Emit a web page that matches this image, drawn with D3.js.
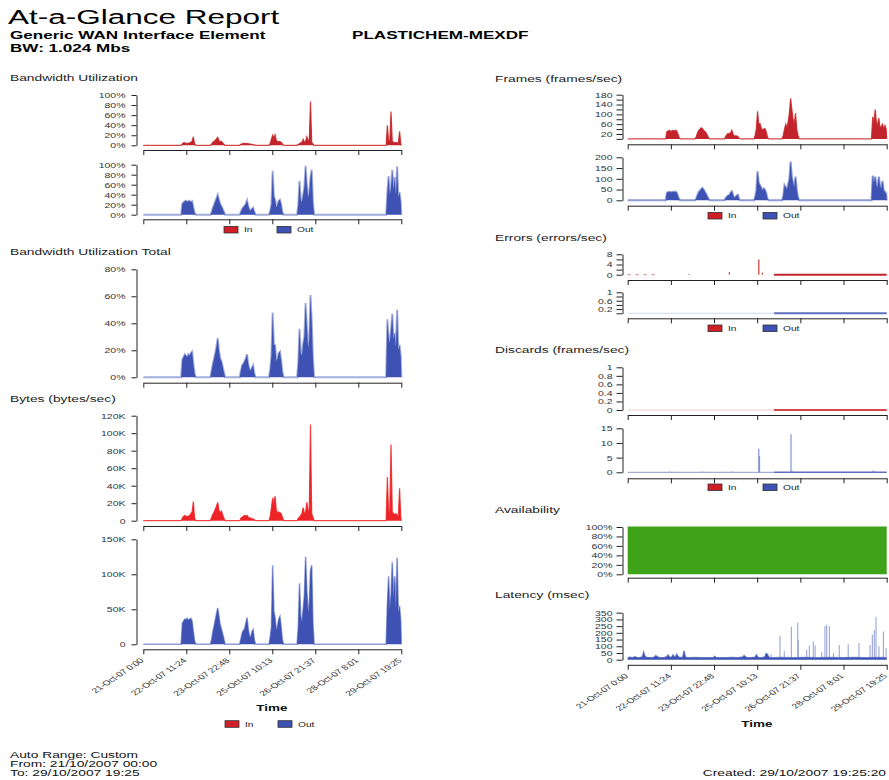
<!DOCTYPE html>
<html><head><meta charset="utf-8">
<script src="https://cdn.jsdelivr.net/npm/d3@7"></script>
<style>body{margin:0;background:#fff}svg{display:block}</style>
</head><body>
<svg id="c" width="889" height="780"></svg>
<script>
// ---------------- DATA ----------------
const H_END = 211.42; // hours from 21-Oct-07 00:00 to 29-Oct-07 19:25
const tickHours = [0, 35.24, 70.47, 105.71, 140.95, 176.18, 211.42];
const tickLabels = ["21-Oct-07 0:00","22-Oct-07 11:24","23-Oct-07 22:48","25-Oct-07 10:13","26-Oct-07 21:37","28-Oct-07 8:01","29-Oct-07 19:25"];
const seriesNames = ["In", "Out"];

// business-hour bursts: hourly samples start at burstStart+1
const burstStart = [31, 55, 79, 103, 126, 199];

const bwIn = [
  [3,5,5,4,4,4,5,6,8,17,3],
  [3,6,8,10,13,16,9,7,8,5,2],
  [2,3,4,4,3,4,3,3,2,2,1,1],
  [4,12,20,15,21,10,7,8,7,6,3],
  [2,3,5,6,12,6,8,17,10,9,87,6,3],
  [40,8,10,67,8,6,5,6,5,4,28,3]
];
const bwOut = [
  [22,25,27,28,26,27,28,25,27,15,4],
  [5,14,20,27,33,40,30,22,17,12,6],
  [6,12,15,18,22,29,18,10,8,12,14,6],
  [8,20,88,37,30,15,20,28,30,20,5],
  [20,68,30,25,40,55,98,60,35,45,75,90,25],
  [45,77,40,55,90,50,75,40,97,35,45,25]
];
const bwTotal = [
  [13,15,17,16,15,17,16,18,19,10,3],
  [5,10,14,18,23,29,20,14,12,8,4],
  [5,9,10,12,14,17,10,6,5,7,9,3],
  [6,16,48,24,24,12,14,18,19,12,4],
  [11,36,18,16,25,30,55,38,22,28,61,42,14],
  [43,30,25,35,47,28,33,22,50,20,24,15]
];
const bytesIn = [ // K bytes/sec
  [3,5,6,5,5,5,6,8,10,22,3],
  [4,7,10,13,17,21,12,9,11,7,3],
  [3,4,5,6,5,6,4,3,3,2,2,1],
  [5,15,26,20,28,12,9,10,9,8,4],
  [3,4,6,8,15,8,10,21,12,11,110,8,4],
  [50,10,12,87,10,8,7,8,6,5,37,4]
];
const bytesOut = [
  [30,33,36,35,37,34,36,37,33,18,5],
  [7,18,26,35,44,52,40,28,22,15,8],
  [8,16,20,22,30,38,22,12,10,18,21,6],
  [10,25,113,47,38,20,26,36,40,24,6],
  [25,87,40,32,50,70,125,78,45,58,105,113,30],
  [58,97,50,70,117,65,97,50,124,45,55,32]
];
const framesIn = [
  [30,32,35,30,33,35,32,35,33,20,5],
  [10,25,35,40,45,42,35,30,25,15,5],
  [10,18,22,20,25,35,20,12,12,12,10,3],
  [15,40,112,60,62,45,35,40,42,30,10],
  [15,40,60,45,70,105,165,120,80,60,105,40,15],
  [90,65,120,70,55,85,45,50,60,40,55,40]
];
const framesOut = [
  [35,38,40,38,37,40,38,40,36,20,5],
  [10,25,38,45,52,57,50,40,30,18,6],
  [10,18,22,25,35,42,25,12,15,22,25,5],
  [15,45,135,80,70,60,45,55,50,35,10],
  [20,70,60,50,75,100,180,110,80,60,110,50,15],
  [115,80,110,70,60,110,65,55,90,45,40,30]
];

const errInEarlyEnd = 26;      // hour up to which early error samples appear
const fullPollingFrom = 119.5; // hour from which error/discard data is continuous
const errInSpikeHours = [50, 83, 107, 110];
const errInSpikeVals  = [0.3, 1, 6, 0.8];
const discOutSpikeHours = [34.5, 37, 61, 64, 80, 85, 107, 107.6, 133.3, 134, 200, 202];
const discOutSpikeVals  = [0.3, 0.2, 0.3, 0.2, 0.2, 0.3, 8, 5.5, 13, 0.6, 0.6, 0.5];

const availHours = [0, 211.42];
const availVals  = [100, 100];

const latBaseHours = [0,2,4,6,8,10,12,13,14,15,17,20,22,23,24,25,27,30,32,33,34,36,37,38,39,40,41,42,44,45,46,47,49,55,60,65,70,71,72,75,80,85,90,94,95,96,97,100,104,105,106,107,110,112,113,114,115,116,118,125,135,145,155,165,175,185,195,205,211.42];
const latBaseVals  = [15,18,15,22,14,16,20,55,25,18,16,15,20,30,22,18,15,16,22,35,20,18,35,22,20,40,25,18,15,22,65,20,15,16,14,15,15,25,16,14,15,16,15,20,30,22,16,15,18,35,22,15,16,20,45,40,20,16,15,16,15,16,15,16,15,16,15,16,15];
const latSpikeHours = [117,124.3,127.8,133.6,138.8,139.3,146.1,148.3,151.5,153,158.4,161,162.4,164.6,168,172.7,180,188.8,197.8,199.7,201.3,202.7,205.1,208.7,210.9];
const latSpikeVals  = [40,180,65,245,275,145,75,105,135,105,55,250,260,250,50,110,115,125,110,185,220,320,100,210,85];

const pctTicks = [0,20,40,60,80,100];
const totTicks = [0,20,40,60,80];
const bytesInTicks = [0,20,40,60,80,100,120];
const bytesOutTicks = [0,50,100,150];
const framesInTicks = [0,20,40,60,80,100,120,140,160,180];
const framesInLabelled = [20,60,100,140,180];
const framesOutTicks = [0,50,100,150,200];
const errInTicks = [0,2,4,6,8];
const errInLabelled = [0,4,8];
const errOutTicks = [0,0.2,0.4,0.6,0.8,1];
const errOutLabelled = [0.2,0.6,1];
const discInTicks = [0,0.2,0.4,0.6,0.8,1];
const discOutTicks = [0,5,10,15];
const latTicks = [0,50,100,150,200,250,300,350];

// ---------------- DRAWING ----------------
const FONT = "'Liberation Sans', Arial, Helvetica, sans-serif";
const SX = 1.5;
const RED = "#c3232b", RED_B = "#ee2328", BLUE = "#3d52b2", GREEN = "#3fa31a";
const svg = d3.select("#c");

function text(x, y, s, size, o = {}) {
  return svg.append("text")
    .attr("transform", `translate(${x},${y}) scale(${o.sx || SX},1)`)
    .attr("text-anchor", o.anchor || "start")
    .attr("font-family", FONT).attr("font-size", size)
    .attr("font-weight", o.bold ? "bold" : "normal")
    .attr("fill", o.fill || "#111").text(s);
}

function buildSeries(vals) {
  const pts = [{h: 0, v: 0}];
  burstStart.forEach((s, i) => {
    pts.push({h: s, v: 0});
    vals[i].forEach((v, j) => pts.push({h: s + 1 + j, v}));
    pts.push({h: Math.min(s + vals[i].length + 1, H_END), v: 0});
  });
  if (pts[pts.length - 1].h < H_END) pts.push({h: H_END, v: 0});
  return pts;
}

const LEFT = {x0: 143.3, x1: 401.3, ax: 136.5, tick: 5, pad: 6};
const RIGHT = {x0: 627.7, x1: 886.7, ax: 622.5, tick: 6, pad: 4};

function panel(c) {
  const x = d3.scaleLinear().domain([0, H_END]).range([c.col.x0, c.col.x1]);
  const y = d3.scaleLinear().domain([0, c.max]).range([c.y0, c.y1]);
  const g = svg.append("g");
  const ya = d3.axisLeft(y).tickValues(c.ticks).tickSize(c.col.tick).tickSizeOuter(0)
    .tickFormat(c.fmt);
  const yg = g.append("g").attr("transform", `translate(${c.col.ax},0)`).call(ya)
    .attr("color", "#222").attr("font-family", FONT).attr("font-size", 7);
  yg.selectAll("text").attr("x", 0).attr("dy", "0.34em").attr("fill", "#333")
    .attr("transform", `translate(${-(c.col.tick + c.col.pad)},0) scale(${SX},1)`);
  const xa = d3.axisBottom(x).tickValues(tickHours).tickSize(5).tickSizeOuter(0)
    .tickFormat((d, i) => c.labels ? tickLabels[i] : "");
  const xg = g.append("g").attr("transform", `translate(0,${c.axisY})`).call(xa)
    .attr("color", "#222").attr("font-family", FONT).attr("font-size", 6.9);
  if (c.labels) {
    xg.selectAll("text").attr("y", null).attr("dy", "0.35em").attr("text-anchor", "end")
      .attr("fill", "#333")
      .attr("transform", `translate(-2,10) scale(${SX},1) rotate(-45)`);
  }
  return {x, y, g};
}

function areaSeries(p, data, fill, lineColor, lw) {
  const line = d3.line().x(d => p.x(d.h)).y(d => p.y(d.v));
  const area = d3.area().x(d => p.x(d.h)).y0(p.y(0)).y1(d => p.y(d.v));
  p.g.append("path").datum(data).attr("d", line).attr("fill", "none")
    .attr("stroke", lineColor).attr("stroke-width", lw);
  p.g.append("path").datum(data).attr("d", area).attr("fill", fill);
}

function spikes(p, hours, vals, base, color, w) {
  p.g.selectAll(null).data(hours.map((h, i) => ({h, v: vals[i]}))).join("line")
    .attr("x1", d => p.x(d.h)).attr("x2", d => p.x(d.h))
    .attr("y1", p.y(base)).attr("y2", d => p.y(d.v))
    .attr("stroke", color).attr("stroke-width", w);
}

function segment(p, h0, h1, color, w, dash) {
  const line = d3.line().x(d => p.x(d.h)).y(d => p.y(d.v));
  p.g.append("path").datum([{h: h0, v: 0}, {h: h1, v: 0}]).attr("d", line)
    .attr("fill", "none").attr("stroke", color).attr("stroke-width", w)
    .attr("stroke-dasharray", dash || null);
}

function legend(xRed, xBlue, cy) {
  [[xRed, "#d01f26", seriesNames[0]], [xBlue, BLUE, seriesNames[1]]].forEach(([bx, col, name]) => {
    svg.append("rect").attr("x", bx).attr("y", cy - 3.3).attr("width", 14).attr("height", 6.6)
      .attr("fill", col).attr("stroke", "#333").attr("stroke-width", 0.8);
    text(bx + 20, cy + 2.5, name, 6.8, {fill: "#222"});
  });
}

const pctFmt = d => d + "%";
const kFmt = d => d === 0 ? "0" : d + "K";
const sel = arr => d => arr.includes(d) ? String(d) : "";

// header
text(8, 23.5, "At-a-Glance Report", 21, {fill: "#000"});
text(10, 39, "Generic WAN Interface Element", 11.4, {bold: true, fill: "#000"});
text(352, 39, "PLASTICHEM-MEXDF", 11.4, {bold: true, fill: "#000"});
text(10, 52, "BW: 1.024 Mbs", 11.4, {bold: true, fill: "#000"});

// section titles
text(10, 81, "Bandwidth Utilization", 9.2, {fill: "#222"});
text(10, 255, "Bandwidth Utilization Total", 9.2, {fill: "#222"});
text(10, 402, "Bytes (bytes/sec)", 9.2, {fill: "#222"});
text(495, 81.5, "Frames (frames/sec)", 9.2, {fill: "#222"});
text(495, 241, "Errors (errors/sec)", 9.2, {fill: "#222"});
text(495, 353, "Discards (frames/sec)", 9.2, {fill: "#222"});
text(495, 513, "Availability", 9.2, {fill: "#222"});
text(495, 598, "Latency (msec)", 9.2, {fill: "#222"});

// LEFT column
let p;
p = panel({col: LEFT, y0: 145.3, y1: 95, max: 100, ticks: pctTicks, fmt: pctFmt, axisY: 150});
areaSeries(p, buildSeries(bwIn), RED, "#d44848", 1.2);
p = panel({col: LEFT, y0: 214.7, y1: 164.7, max: 100, ticks: pctTicks, fmt: pctFmt, axisY: 219.3});
areaSeries(p, buildSeries(bwOut), BLUE, "#a3aedc", 2);
legend(224, 277, 229.7);

p = panel({col: LEFT, y0: 377.3, y1: 269.3, max: 80, ticks: totTicks, fmt: pctFmt, axisY: 382.7});
areaSeries(p, buildSeries(bwTotal), BLUE, "#a3aedc", 2);

p = panel({col: LEFT, y0: 520.7, y1: 415.7, max: 120, ticks: bytesInTicks, fmt: kFmt, axisY: 526});
areaSeries(p, buildSeries(bytesIn), RED_B, "#f04848", 1.2);
p = panel({col: LEFT, y0: 644.3, y1: 539.3, max: 150, ticks: bytesOutTicks, fmt: kFmt, axisY: 649.3, labels: true});
areaSeries(p, buildSeries(bytesOut), BLUE, "#8f9cd6", 1.5);
text(272, 711, "Time", 9, {bold: true, anchor: "middle", fill: "#111"});
legend(225, 278, 724);

// RIGHT column
p = panel({col: RIGHT, y0: 138.9, y1: 94.7, max: 180, ticks: framesInTicks, fmt: sel(framesInLabelled), axisY: 144.3});
areaSeries(p, buildSeries(framesIn), RED, "#d44848", 1.2);
p = panel({col: RIGHT, y0: 200.3, y1: 157.3, max: 200, ticks: framesOutTicks, fmt: String, axisY: 205.7});
areaSeries(p, buildSeries(framesOut), BLUE, "#8f9cd6", 2);
legend(708, 763, 215.7);

p = panel({col: RIGHT, y0: 274.7, y1: 254.3, max: 8, ticks: errInTicks, fmt: sel(errInLabelled), axisY: 280});
segment(p, 0, errInEarlyEnd, "#d77a7a", 1, "3,5");
segment(p, fullPollingFrom, H_END, RED, 2);
spikes(p, errInSpikeHours, errInSpikeVals, 0, "#c84a4a", 1.3);
p = panel({col: RIGHT, y0: 313.3, y1: 292.3, max: 1, ticks: errOutTicks, fmt: sel(errOutLabelled), axisY: 318.3});
segment(p, 0, fullPollingFrom, "#d3d8ef", 1);
segment(p, fullPollingFrom, H_END, "#5e6fc2", 2);
legend(708, 763, 328.3);

p = panel({col: RIGHT, y0: 410, y1: 367.3, max: 1, ticks: discInTicks, fmt: String, axisY: 415});
segment(p, 0, fullPollingFrom, "#f3cccc", 1);
segment(p, fullPollingFrom, H_END, "#d0474c", 2);
p = panel({col: RIGHT, y0: 472.3, y1: 428.3, max: 15, ticks: discOutTicks, fmt: String, axisY: 478.3});
segment(p, 0, fullPollingFrom, "#8c99d2", 1);
segment(p, fullPollingFrom, H_END, "#5e6fc2", 1.6);
spikes(p, discOutSpikeHours, discOutSpikeVals, 0, "#8692cf", 1.2);
legend(708, 763, 487.3);

p = panel({col: RIGHT, y0: 574.3, y1: 527, max: 100, ticks: pctTicks, fmt: pctFmt, axisY: 577.7});
areaSeries(p, availHours.map((h, i) => ({h, v: availVals[i]})), GREEN, GREEN, 1);

p = panel({col: RIGHT, y0: 659.7, y1: 612.7, max: 350, ticks: latTicks, fmt: String, axisY: 664.8, labels: true});
spikes(p, latSpikeHours, latSpikeVals, 15, "#9ba5d6", 1.1);
areaSeries(p, latBaseHours.map((h, i) => ({h, v: latBaseVals[i]})), BLUE, "#7f8dcf", 1.5);
text(757, 727, "Time", 9, {bold: true, anchor: "middle", fill: "#111"});

// footer
text(10, 758, "Auto Range:  Custom", 9.2, {fill: "#111"});
text(10, 767, "From:  21/10/2007 00:00", 9.2, {fill: "#111"});
text(10, 776, "To:  29/10/2007 19:25", 9.2, {fill: "#111"});
text(886, 776, "Created:  29/10/2007 19:25:20", 9.2, {fill: "#111", anchor: "end"});
</script>
</body></html>
